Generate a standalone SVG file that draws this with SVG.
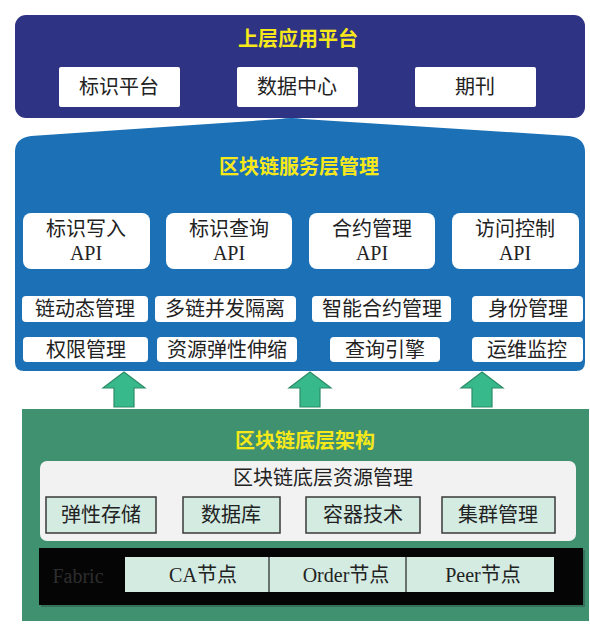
<svg xmlns="http://www.w3.org/2000/svg" width="590" height="631" viewBox="0 0 590 631">
<defs>
<style>
.title{font-family:"Noto Sans CJK SC","Noto Sans",sans-serif;font-weight:bold;font-size:20px;fill:#f7e81a;text-anchor:middle;dominant-baseline:central}
.lbl{font-family:"Liberation Serif","Noto Sans CJK SC",serif;font-size:20px;fill:#222;text-anchor:middle;dominant-baseline:central}
.wbox{fill:#ffffff}
.cell{fill:#d3ebe1;stroke:#3a3a3a;stroke-width:1.5}
.arrow{fill:#37b98c;stroke:#2c8c68;stroke-width:1.2}
</style>
<g id="arrowShape"><path d="M0 0 L21 16 L10 16 L10 35 L-10 35 L-10 16 L-21 16 Z"/></g>
</defs>
<rect width="590" height="631" fill="#ffffff"/>

<g id="top-layer">
<rect x="15" y="15" width="570" height="103" rx="11" fill="#2e3383"/>
<text class="title" x="298" y="37">上层应用平台</text>
<g id="app-biaoshi"><rect class="wbox" x="59" y="67" width="121" height="40" rx="2"/><text class="lbl" x="119" y="87">标识平台</text></g>
<g id="app-shuju"><rect class="wbox" x="237" y="67" width="121" height="40" rx="2"/><text class="lbl" x="297" y="87">数据中心</text></g>
<g id="app-qikan"><rect class="wbox" x="415" y="67" width="121" height="40" rx="2"/><text class="lbl" x="475" y="87">期刊</text></g>
</g>

<g id="service-layer">
<path d="M15 152 Q15 138 31 136 L280 119 Q291 117 303 119 L569 136 Q585 138 585 152 L585 362 Q585 371 576 371 L24 371 Q15 371 15 362 Z" fill="#1b70b6"/>
<text class="title" x="299" y="165">区块链服务层管理</text>
<g id="api-write"><rect class="wbox" x="23" y="213" width="127" height="56" rx="8"/><text class="lbl" x="86" y="229">标识写入</text><text class="lbl" x="86" y="253">API</text></g>
<g id="api-query"><rect class="wbox" x="166" y="213" width="126" height="56" rx="8"/><text class="lbl" x="229" y="229">标识查询</text><text class="lbl" x="229" y="253">API</text></g>
<g id="api-contract"><rect class="wbox" x="309" y="213" width="126" height="56" rx="8"/><text class="lbl" x="372" y="229">合约管理</text><text class="lbl" x="372" y="253">API</text></g>
<g id="api-access"><rect class="wbox" x="452" y="213" width="127" height="56" rx="8"/><text class="lbl" x="515" y="229">访问控制</text><text class="lbl" x="515" y="253">API</text></g>
<g id="chip-1"><rect class="wbox" x="22" y="296" width="126" height="26" rx="4"/><text class="lbl" x="85" y="309">链动态管理</text></g>
<g id="chip-2"><rect class="wbox" x="155" y="296" width="141" height="26" rx="4"/><text class="lbl" x="225" y="309">多链并发隔离</text></g>
<g id="chip-3"><rect class="wbox" x="312" y="296" width="139" height="26" rx="4"/><text class="lbl" x="382" y="309">智能合约管理</text></g>
<g id="chip-4"><rect class="wbox" x="472" y="296" width="111" height="26" rx="4"/><text class="lbl" x="528" y="309">身份管理</text></g>
<g id="chip-5"><rect class="wbox" x="23" y="337" width="125" height="25" rx="4"/><text class="lbl" x="86" y="350">权限管理</text></g>
<g id="chip-6"><rect class="wbox" x="157" y="337" width="140" height="25" rx="4"/><text class="lbl" x="227" y="350">资源弹性伸缩</text></g>
<g id="chip-7"><rect class="wbox" x="330" y="337" width="110" height="25" rx="4"/><text class="lbl" x="385" y="350">查询引擎</text></g>
<g id="chip-8"><rect class="wbox" x="472" y="337" width="111" height="25" rx="4"/><text class="lbl" x="527" y="350">运维监控</text></g>
</g>

<g id="connectors">
<use href="#arrowShape" class="arrow" x="124" y="372"/>
<use href="#arrowShape" class="arrow" x="310" y="372"/>
<use href="#arrowShape" class="arrow" x="482" y="372"/>
</g>

<g id="base-layer">
<rect x="22" y="409" width="567" height="212" fill="#3f9170"/>
<text class="title" x="305" y="439">区块链底层架构</text>
<g id="resource-mgmt">
<rect x="40" y="461" width="536" height="80" rx="7" fill="#f2f2f2"/>
<text class="lbl" x="323" y="478">区块链底层资源管理</text>
<g id="res-1"><rect class="cell" x="46" y="497" width="110" height="36"/><text class="lbl" x="101" y="515">弹性存储</text></g>
<g id="res-2"><rect class="cell" x="183" y="497" width="97" height="36"/><text class="lbl" x="231" y="515">数据库</text></g>
<g id="res-3"><rect class="cell" x="306" y="497" width="114" height="36"/><text class="lbl" x="363" y="515">容器技术</text></g>
<g id="res-4"><rect class="cell" x="442" y="497" width="113" height="36"/><text class="lbl" x="498" y="515">集群管理</text></g>
</g>
<g id="fabric">
<rect x="41" y="550" width="544" height="57" fill="#2e5a48" opacity="0.6"/>
<rect x="39" y="548" width="544" height="57" fill="#050505"/>
<text class="lbl" x="78" y="576" style="fill:#2e2e2e">Fabric</text>
<rect x="125" y="557" width="429" height="35" fill="#d3ebe1"/>
<line x1="269" y1="557" x2="269" y2="592" stroke="#222" stroke-width="1.2"/>
<line x1="406" y1="557" x2="406" y2="592" stroke="#222" stroke-width="1.2"/>
<g id="node-ca"><text class="lbl" x="203" y="575">CA节点</text></g>
<g id="node-order"><text class="lbl" x="346" y="575">Order节点</text></g>
<g id="node-peer"><text class="lbl" x="483" y="575">Peer节点</text></g>
</g>
</g>
</svg>
